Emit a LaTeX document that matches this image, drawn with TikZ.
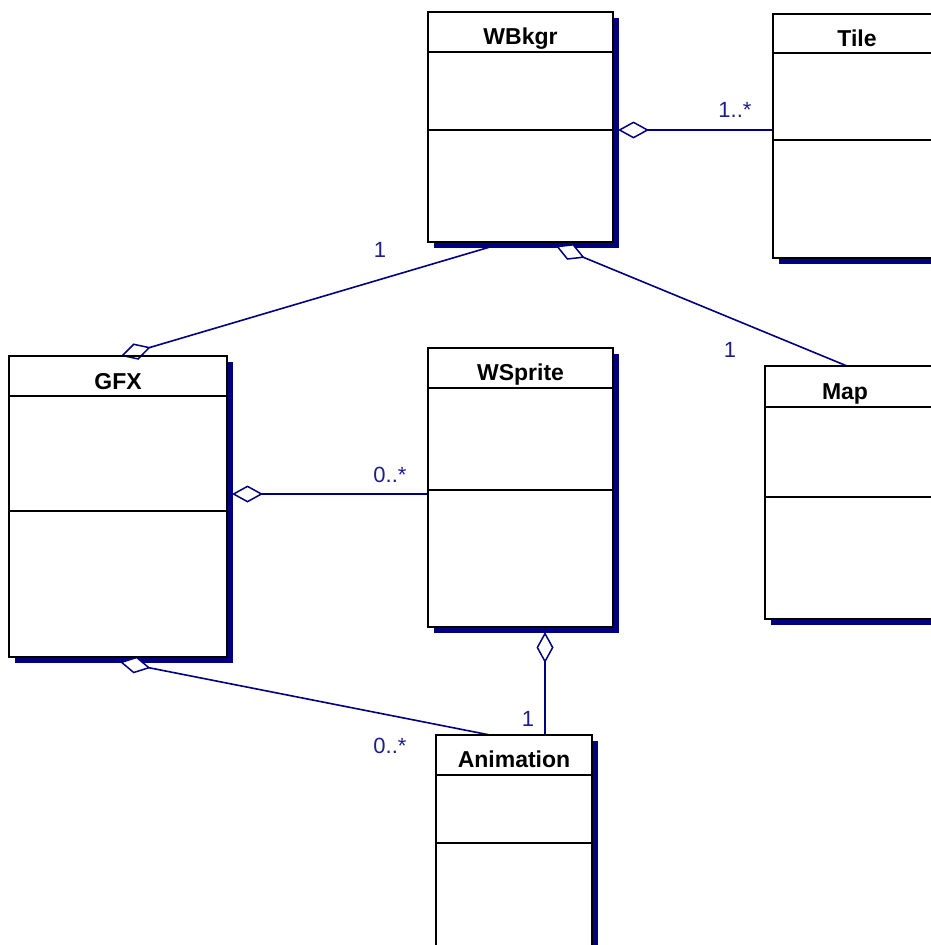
\documentclass[tikz,border=0pt]{standalone}
\usepackage{fontspec}
\setmainfont{Liberation Sans}
\usetikzlibrary{arrows.meta,shadows,calc}
\definecolor{navy}{RGB}{0,0,128}
\definecolor{lblblue}{RGB}{30,30,140}
\tikzset{
  cls/.style={draw=black, line width=1.9pt, fill=white, rectangle, anchor=north west,
    inner sep=0pt, outer sep=0pt,
    drop shadow={shadow xshift=5.5pt, shadow yshift=-5.5pt, fill=navy, opacity=1}},
  ttl/.style={anchor=base, inner sep=0pt, font=\bfseries\fontsize{23}{23}\selectfont},
  comp/.style={draw=black, line width=1.9pt},
  agg/.style={draw=navy, line width=1.6pt,
    -{Diamond[fill=white, length=31pt, width=17pt, line width=1.5pt]}},
  mult/.style={anchor=base, inner sep=0pt, text=lblblue, font=\fontsize{22}{22}\selectfont}
}
\begin{document}
\begin{tikzpicture}[x=1pt,y=-1pt]
\useasboundingbox (0,0) rectangle (931,945);
\clip (0,0) rectangle (931,945);
\fill[white] (0,0) rectangle (931,945);

% attachment coordinates
\coordinate (wbTile) at (618,130);
\coordinate (wbGfx) at (490,247);
\coordinate (gfxTop) at (121,356);
\coordinate (wbMap) at (556,246);
\coordinate (mapTop) at (847,366);
\coordinate (gfxSide) at (232,494);
\coordinate (wsBot) at (545,632);
\coordinate (gfxBot) at (120,662);
\coordinate (animTopL) at (490,735);

% class boxes
\node[cls, minimum width=185pt, minimum height=230pt] (wbkgr) at (428,12) {};
\node[cls, minimum width=168pt, minimum height=244pt] (tile) at (773,14) {};
\node[cls, minimum width=218pt, minimum height=301pt] (gfx) at (9,356) {};
\node[cls, minimum width=185pt, minimum height=279pt] (wsprite) at (428,348) {};
\node[cls, minimum width=172pt, minimum height=253pt] (map) at (765,366) {};
\node[cls, minimum width=156pt, minimum height=240pt] (anim) at (436,735) {};

% connectors
\draw[agg] (tile.west |- wbTile) -- (wbTile);
\draw[agg] (wbGfx) -- (gfxTop);
\draw[agg] (mapTop) -- (wbMap);
\draw[agg] (wsprite.west |- gfxSide) -- (gfxSide);
\draw[agg] (anim.north -| wsBot) -- (wsBot);
\draw[agg] (animTopL) -- (gfxBot);

% box outlines over connector ends
\foreach \n in {wbkgr,tile,gfx,wsprite,map,anim}{
  \draw[comp] (\n.north west) rectangle (\n.south east);
}
% compartments
\draw[comp] ($(wbkgr.north west)+(0,40)$) -- ($(wbkgr.north east)+(0,40)$);
\draw[comp] ($(wbkgr.north west)+(0,118)$) -- ($(wbkgr.north east)+(0,118)$);
\draw[comp] ($(tile.north west)+(0,39)$) -- ($(tile.north east)+(0,39)$);
\draw[comp] ($(tile.north west)+(0,126)$) -- ($(tile.north east)+(0,126)$);
\draw[comp] ($(gfx.north west)+(0,40)$) -- ($(gfx.north east)+(0,40)$);
\draw[comp] ($(gfx.north west)+(0,155)$) -- ($(gfx.north east)+(0,155)$);
\draw[comp] ($(wsprite.north west)+(0,40)$) -- ($(wsprite.north east)+(0,40)$);
\draw[comp] ($(wsprite.north west)+(0,142)$) -- ($(wsprite.north east)+(0,142)$);
\draw[comp] ($(map.north west)+(0,41)$) -- ($(map.north east)+(0,41)$);
\draw[comp] ($(map.north west)+(0,131)$) -- ($(map.north east)+(0,131)$);
\draw[comp] ($(anim.north west)+(0,40)$) -- ($(anim.north east)+(0,40)$);
\draw[comp] ($(anim.north west)+(0,108)$) -- ($(anim.north east)+(0,108)$);

% titles
\node[ttl] (twb) at ($(wbkgr.north)+(0,32)$) {WBkgr};
\node[ttl] (ttile) at (857,46) {Tile};
\node[ttl] (tgfx) at ($(gfx.north)+(0,33)$) {GFX};
\node[ttl] (tws) at ($(wsprite.north)+(0,32)$) {WSprite};
\node[ttl] (tmap) at (845,399) {Map};
\node[ttl] (tanim) at ($(anim.north)+(0,32)$) {Animation};

% multiplicities
\node[mult] (m1) at (735,117) {1..*};
\node[mult] (m2) at (380,257) {1};
\node[mult] (m3) at (730,357) {1};
\node[mult] (m4) at (390,482) {0..*};
\node[mult] (m5) at (528,726) {1};
\node[mult] (m6) at (390,753) {0..*};
\end{tikzpicture}
\end{document}
